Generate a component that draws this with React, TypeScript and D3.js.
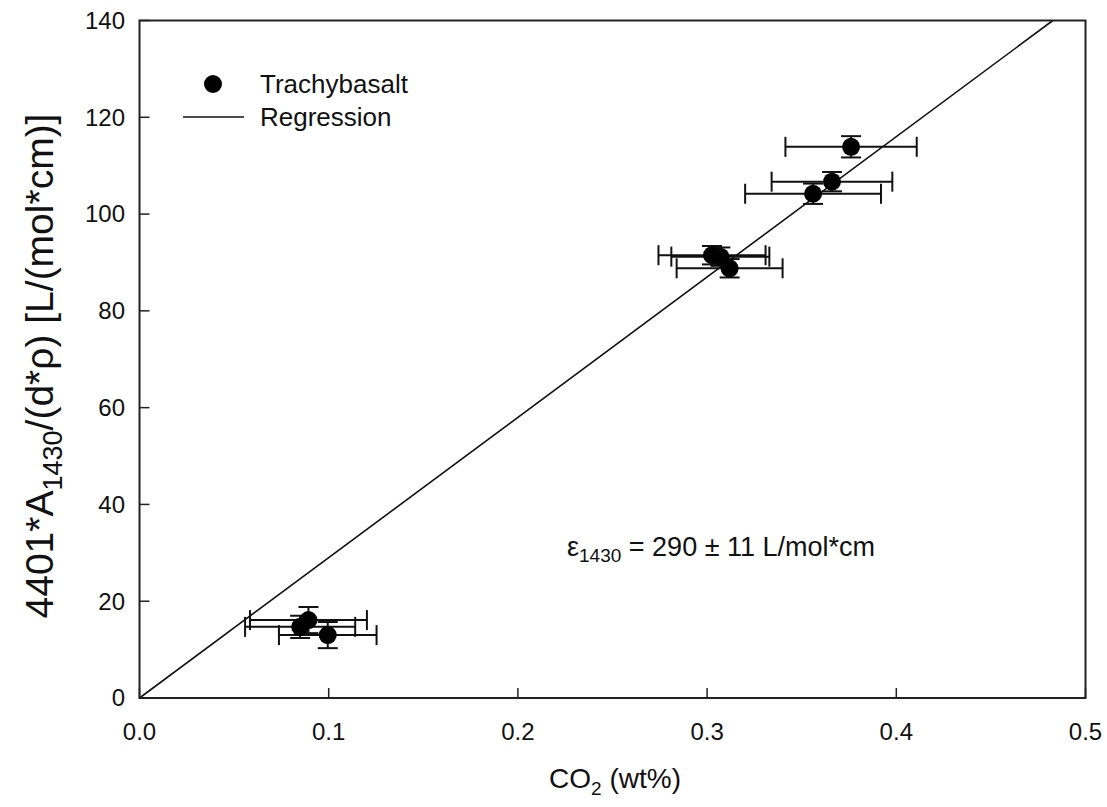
import React from "react";
import * as d3 from "d3";

// CO2 content (wt%) and normalised absorbance for trachybasalt glasses
const co2 = [0.3761, 0.366, 0.356, 0.3026, 0.307, 0.3119, 0.0849, 0.0893, 0.0995];
const absorb = [113.9, 106.7, 104.2, 91.5, 91.2, 88.8, 14.7, 16.1, 13.0];
const co2Err = [0.0347, 0.0319, 0.0359, 0.0283, 0.0259, 0.028, 0.0291, 0.0309, 0.0258];
const absorbErr = [2.2, 2.0, 2.1, 1.9, 1.9, 1.9, 2.3, 2.7, 2.7];

// Regression slope = molar absorption coefficient (L/mol*cm)
const epsilon = 290;
const epsilonErr = 11;

const xTicks = [0, 0.1, 0.2, 0.3, 0.4, 0.5];
const yTicks = [0, 20, 40, 60, 80, 100, 120, 140];

const W = 1107;
const H = 807;
const FONT = "'Liberation Sans', Arial, Helvetica, sans-serif";

export default function App() {
  const x = d3.scaleLinear().domain([0, 0.5]).range([139.5, 1085.5]);
  const y = d3.scaleLinear().domain([0, 140]).range([698, 20.5]);
  const [x0, x1] = x.range();
  const [y0, y1] = y.range();
  const cap = 10;
  const tickLen = 10;

  const xEnd = 140 / epsilon;
  const line = d3.line<[number, number]>()
    .x((d) => x(d[0]))
    .y((d) => y(d[1]));
  const regPath = line([
    [0, 0],
    [xEnd, epsilon * xEnd],
  ]);

  const pts = co2.map((c, i) => ({ c, a: absorb[i], ce: co2Err[i], ae: absorbErr[i] }));

  return (
    <svg
      width={W}
      height={H}
      style={{ position: "absolute", left: 0, top: 0, background: "#fff" }}
      fontFamily={FONT}
    >
      <rect x={0} y={0} width={W} height={H} fill="#fff" />

      {/* regression line */}
      <path d={regPath ?? ""} stroke="#111" strokeWidth={1.6} fill="none" />

      {/* error bars */}
      <g stroke="#111" strokeWidth={2}>
        {pts.map((p, i) => {
          const cx = x(p.c);
          const cy = y(p.a);
          const xl = x(p.c - p.ce);
          const xr = x(p.c + p.ce);
          const yt = y(p.a + p.ae);
          const yb = y(p.a - p.ae);
          return (
            <g key={i}>
              <line x1={xl} x2={xr} y1={cy} y2={cy} />
              <line x1={xl} x2={xl} y1={cy - cap} y2={cy + cap} />
              <line x1={xr} x2={xr} y1={cy - cap} y2={cy + cap} />
              <line x1={cx} x2={cx} y1={yt} y2={yb} />
              <line x1={cx - cap} x2={cx + cap} y1={yt} y2={yt} />
              <line x1={cx - cap} x2={cx + cap} y1={yb} y2={yb} />
            </g>
          );
        })}
      </g>

      {/* markers */}
      <g fill="#000">
        {pts.map((p, i) => (
          <circle key={i} cx={x(p.c)} cy={y(p.a)} r={9} />
        ))}
      </g>

      {/* frame */}
      <rect
        x={x0}
        y={y1}
        width={x1 - x0}
        height={y0 - y1}
        fill="none"
        stroke="#222"
        strokeWidth={2}
      />

      {/* x ticks */}
      <g>
        {xTicks.map((t) => (
          <g key={t}>
            <line x1={x(t)} x2={x(t)} y1={y0} y2={y0 - tickLen} stroke="#222" strokeWidth={1.5} />
            <text x={x(t)} y={740} textAnchor="middle" fontSize={24} fill="#111">
              {d3.format(".1f")(t)}
            </text>
          </g>
        ))}
      </g>

      {/* y ticks */}
      <g>
        {yTicks.map((t) => (
          <g key={t}>
            <line x1={x0} x2={x0 + tickLen} y1={y(t)} y2={y(t)} stroke="#222" strokeWidth={1.5} />
            <text x={125} y={y(t)} dy="0.35em" textAnchor="end" fontSize={24} fill="#111">
              {t}
            </text>
          </g>
        ))}
      </g>

      {/* axis titles */}
      <text x={615} y={788} textAnchor="middle" fontSize={28} fill="#111">
        CO<tspan fontSize={19} dy={7}>2</tspan>
        <tspan dy={-7}> (wt%)</tspan>
      </text>
      <text
        transform="translate(53,366) rotate(-90)"
        textAnchor="middle"
        fontSize={39}
        fill="#111"
      >
        4401*A<tspan fontSize={27} dy={9}>1430</tspan>
        <tspan dy={-9}>/(d*ρ) [L/(mol*cm)]</tspan>
      </text>

      {/* legend */}
      <circle cx={213} cy={84} r={9} fill="#000" />
      <text x={260} y={93} fontSize={26} fill="#111">Trachybasalt</text>
      <line x1={183} x2={244} y1={117} y2={117} stroke="#111" strokeWidth={1.6} />
      <text x={260} y={126} fontSize={26} fill="#111">Regression</text>

      {/* fitted coefficient */}
      <text x={567} y={556} fontSize={27} fill="#111">
        ε<tspan fontSize={19} dy={6}>1430</tspan>
        <tspan dy={-6}>{` = ${epsilon} ± ${epsilonErr} L/mol*cm`}</tspan>
      </text>
    </svg>
  );
}
